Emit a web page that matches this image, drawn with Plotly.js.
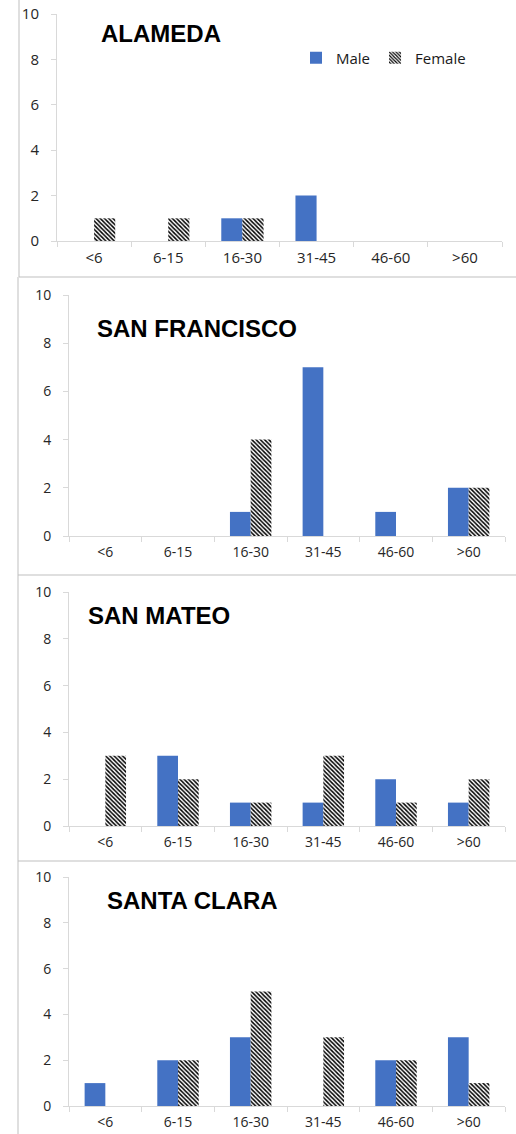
<!DOCTYPE html>
<html>
<head>
<meta charset="utf-8">
<script src="https://cdn.plot.ly/plotly-3.0.1.min.js"></script>
<style>html,body{margin:0;padding:0;background:#fff;}#chart{width:516px;height:1134px;}</style>
</head>
<body>
<div id="chart"></div>
<script>
const categories = ['<6', '6-15', '16-30', '31-45', '46-60', '>60'];
const panelTitles = ['ALAMEDA', 'SAN FRANCISCO', 'SAN MATEO', 'SANTA CLARA'];
const alamedaMale = [0, 0, 1, 2, 0, 0];
const alamedaFemale = [1, 1, 1, 0, 0, 0];
const sanFranciscoMale = [0, 0, 1, 7, 1, 2];
const sanFranciscoFemale = [0, 0, 4, 0, 0, 2];
const sanMateoMale = [0, 3, 1, 1, 2, 1];
const sanMateoFemale = [3, 2, 1, 3, 1, 2];
const santaClaraMale = [1, 2, 3, 0, 2, 3];
const santaClaraFemale = [0, 2, 5, 3, 2, 1];
const yTicks = [0, 2, 4, 6, 8, 10];

const W = 516, H = 1134;
const maleSeries = [alamedaMale, sanFranciscoMale, sanMateoMale, santaClaraMale];
const femaleSeries = [alamedaFemale, sanFranciscoFemale, sanMateoFemale, santaClaraFemale];

// pixel geometry of each panel: [xLeft, xRight, yTop(10), yBottom(0)]
const geo = [
  [57, 502, 14, 241],
  [69, 505, 295, 536],
  [69, 505, 592, 826],
  [69, 505, 877, 1106]
];
const titlePos = [[99, 34], [95, 329], [86, 615], [105, 900]];
const tickFont = [15, 14, 14, 14];

const traces = [];
const layout = {
  width: W, height: H,
  margin: {l: 0, r: 0, t: 0, b: 0},
  paper_bgcolor: '#fff', plot_bgcolor: 'rgba(0,0,0,0)',
  barmode: 'group', bargap: 0.43, bargroupgap: 0,
  font: {family: 'Open Sans, sans-serif', color: '#262626'},
  showlegend: true,
  legend: {
    orientation: 'h', x: 296 / W, xanchor: 'left', y: 1 - 58 / H, yanchor: 'middle',
    font: {size: 15, color: '#1a1a1a'}, bgcolor: 'rgba(0,0,0,0)', traceorder: 'normal'
  },
  annotations: [], shapes: []
};

for (let i = 0; i < 4; i++) {
  const sx = i === 0 ? '' : String(i + 1);
  const xa = 'x' + sx, ya = 'y' + sx;
  traces.push({
    type: 'bar', name: 'Male', x: categories, y: maleSeries[i], xaxis: xa, yaxis: ya,
    marker: {color: '#4472C4', line: {width: 0}}, legendgroup: 'm', showlegend: i === 0,
    hoverinfo: 'skip'
  });
  traces.push({
    type: 'bar', name: 'Female', x: categories, y: femaleSeries[i], xaxis: xa, yaxis: ya,
    marker: {color: '#ffffff', line: {width: 0},
      pattern: {shape: '\\', fgcolor: '#000000', bgcolor: '#ffffff', size: 3, solidity: 0.5}},
    legendgroup: 'f', showlegend: i === 0, hoverinfo: 'skip'
  });
  const g = geo[i];
  layout['xaxis' + sx] = {
    domain: [g[0] / W, g[1] / W], anchor: ya, type: 'category', range: [-0.5, 5.5],
    showgrid: false, zeroline: false, showline: true, linecolor: '#d9d9d9', linewidth: 1,
    ticks: 'outside', tickson: 'boundaries', ticklen: 5, tickcolor: '#d9d9d9',
    tickfont: {size: tickFont[i], color: '#262626'}, ticklabelstandoff: 3, fixedrange: true
  };
  layout['yaxis' + sx] = {
    domain: [1 - g[3] / H, 1 - g[2] / H], anchor: xa, range: [0, 10],
    tickvals: yTicks, showgrid: false, zeroline: false, showline: true,
    linecolor: '#d9d9d9', linewidth: 1, ticks: 'outside', ticklen: 5, tickcolor: '#d9d9d9',
    tickfont: {size: tickFont[i], color: '#262626'}, ticklabelstandoff: 9, fixedrange: true
  };
  layout.annotations.push({
    text: '<b>' + panelTitles[i] + '</b>', xref: 'paper', yref: 'paper',
    x: titlePos[i][0] / W, y: 1 - titlePos[i][1] / H, xanchor: 'left', yanchor: 'middle',
    showarrow: false, font: {family: 'Liberation Sans, Arial, sans-serif', size: 24, color: '#000'}
  });
}

// panel frame lines
const frameColor = '#bfbfbf';
const frames = [
  [19, 0, 19, 277], [19, 277, W, 277],
  [18, 277, 18, 575], [18, 575, W, 575],
  [18, 575, 18, 861], [18, 861, W, 861],
  [18, 861, 18, H]
];
frames.forEach(f => {
  layout.shapes.push({type: 'line', xref: 'paper', yref: 'paper',
    x0: f[0] / W, y0: 1 - f[1] / H, x1: f[2] / W, y1: 1 - f[3] / H,
    line: {color: frameColor, width: 1}});
});

Plotly.newPlot('chart', traces, layout, {displayModeBar: false, staticPlot: true});
</script>
</body>
</html>
